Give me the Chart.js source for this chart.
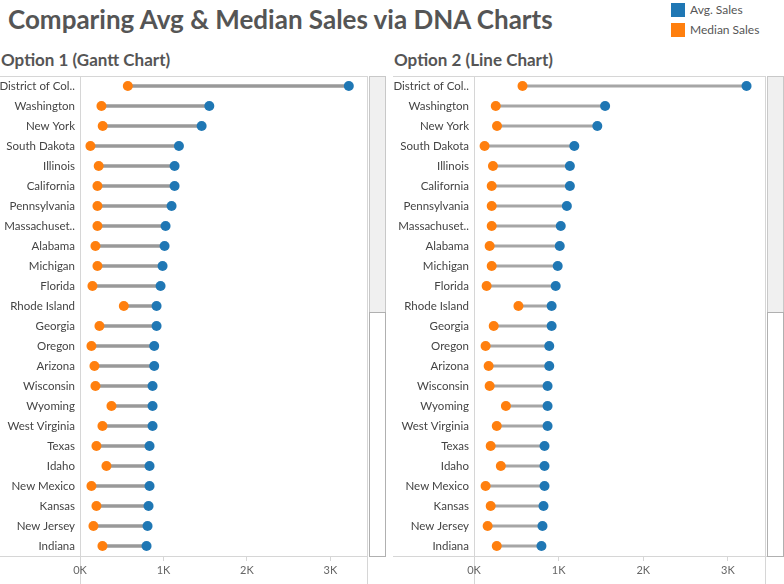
<!DOCTYPE html>
<html>
<head>
<meta charset="utf-8">
<script src="https://cdn.jsdelivr.net/npm/chart.js@4.4.1/dist/chart.umd.min.js"></script>
<style>
  body { margin: 0; width: 784px; height: 584px; background: #fff; position: relative; overflow: hidden; font-family: Lato, sans-serif; color: #555; }
  .abs { position: absolute; }
  .ln { position: absolute; background: #d6d6d6; }
  #title { left: 8px; top: 3px; font-size: 26px; font-weight: bold; white-space: nowrap; color: #555; }
  .sub { top: 49px; font-size: 17px; font-weight: bold; white-space: nowrap; color: #555; }
  .key { left: 671px; width: 14px; height: 14px; }
  .keytxt { left: 690px; font-size: 12px; color: #555; white-space: nowrap; }
  .sbTop { background: #f0f0f0; border: 1px solid #c8c8c8; box-sizing: border-box; }
  .sbBot { background: #fff; border: 1px solid #b0b0b0; box-sizing: border-box; }
</style>
</head>
<body>
<div id="title" class="abs">Comparing Avg &amp; Median Sales via DNA Charts</div>
<div class="abs key" style="top:3px;background:#1f77b4"></div>
<div class="abs keytxt" style="top:2px">Avg. Sales</div>
<div class="abs key" style="top:23px;background:#ff7f0e"></div>
<div class="abs keytxt" style="top:22px">Median Sales</div>

<div class="abs sub" style="left:1px">Option 1 (Gantt Chart)</div>
<div class="abs sub" style="left:394px">Option 2 (Line Chart)</div>

<!-- panel frames -->
<div class="ln" style="left:0;top:76px;width:368px;height:1px"></div>
<div class="ln" style="left:0;top:556px;width:368px;height:1px"></div>
<div class="ln" style="left:80px;top:76px;width:1px;height:508px"></div>
<div class="ln" style="left:367px;top:76px;width:1px;height:508px"></div>

<div class="ln" style="left:393px;top:76px;width:373px;height:1px"></div>
<div class="ln" style="left:393px;top:556px;width:391px;height:1px"></div>
<div class="ln" style="left:474px;top:76px;width:1px;height:508px"></div>
<div class="ln" style="left:765px;top:76px;width:1px;height:508px"></div>

<canvas id="c1" class="abs" width="368" height="508" style="left:0;top:76px"></canvas>
<canvas id="c2" class="abs" width="372" height="508" style="left:394px;top:76px"></canvas>

<!-- scrollbars -->
<div class="abs sbTop" style="left:369px;top:76px;width:17px;height:237px"></div>
<div class="abs sbBot" style="left:369px;top:312px;width:17px;height:245px"></div>
<div class="abs sbTop" style="left:767px;top:76px;width:17px;height:237px"></div>
<div class="abs sbBot" style="left:767px;top:312px;width:17px;height:245px"></div>

<script>
const states = ['District of Col..', 'Washington', 'New York', 'South Dakota', 'Illinois', 'California',
  'Pennsylvania', 'Massachuset..', 'Alabama', 'Michigan', 'Florida', 'Rhode Island', 'Georgia', 'Oregon',
  'Arizona', 'Wisconsin', 'Wyoming', 'West Virginia', 'Texas', 'Idaho', 'New Mexico', 'Kansas',
  'New Jersey', 'Indiana'];
const avgSales = [3220, 1549, 1457, 1185, 1133, 1133, 1097, 1025, 1013, 989, 965, 917,
  917, 889, 889, 869, 869, 869, 833, 833, 833, 821, 809, 797];
const medianSales = [573, 257, 272, 125, 224, 209, 209, 209, 185, 209, 149, 525,
  233, 137, 173, 185, 377, 269, 197, 317, 137, 197, 161, 269];
const xTicks = [0, 1000, 2000, 3000];
const xTickLabels = ['0K', '1K', '2K', '3K'];

const BLUE = '#1f77b4';
const ORANGE = '#ff7f0e';

function pointSet(label, values, color) {
  return {
    type: 'line',
    label: label,
    data: states.map((s, i) => ({ x: values[i], y: s })),
    showLine: false,
    pointRadius: 5,
    pointHoverRadius: 5,
    pointBackgroundColor: color,
    pointBorderWidth: 0,
    order: 0
  };
}

function makeChart(id, lineColor, lineWidth) {
  new Chart(document.getElementById(id), {
    type: 'bar',
    data: {
      labels: states,
      datasets: [
        pointSet('Avg. Sales', avgSales, BLUE),
        pointSet('Median Sales', medianSales, ORANGE),
        {
          type: 'bar',
          label: 'range',
          data: states.map((s, i) => [medianSales[i], avgSales[i]]),
          backgroundColor: lineColor,
          barThickness: lineWidth,
          order: 1
        }
      ]
    },
    options: {
      indexAxis: 'y',
      responsive: false,
      animation: false,
      layout: { padding: 0, autoPadding: false },
      plugins: { legend: { display: false }, tooltip: { enabled: false } },
      scales: {
        x: {
          min: 0,
          max: 3450,
          afterFit: s => { s.height = 28; s.paddingLeft = 0; s.paddingRight = 0; },
          afterBuildTicks: s => { s.ticks = xTicks.map(v => ({ value: v })); },
          ticks: {
            callback: (v) => xTickLabels[xTicks.indexOf(v)],
            maxRotation: 0,
            color: '#666',
            font: { family: 'Lato', size: 11 },
            padding: 3
          },
          grid: { drawOnChartArea: false, tickLength: 5, color: '#d6d6d6' },
          border: { display: false }
        },
        y: {
          afterFit: s => { s.width = 80; s.paddingTop = 0; s.paddingBottom = 0; },
          ticks: { color: '#444', font: { family: 'Lato', size: 11.5 }, padding: 5 },
          grid: { display: false, drawTicks: false },
          border: { display: false }
        }
      }
    }
  });
}

makeChart('c1', '#999999', 3);
makeChart('c2', '#a6a6a6', 2.5);
</script>
</body>
</html>
